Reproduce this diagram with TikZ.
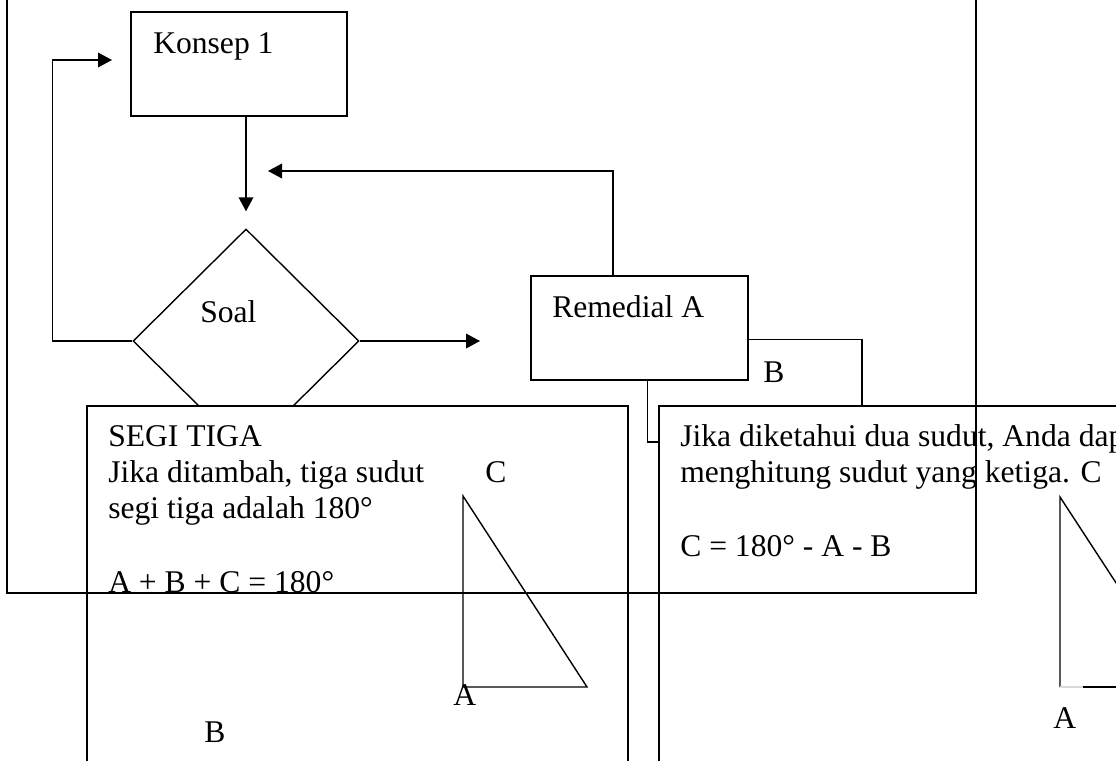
\documentclass[tikz,border=0pt]{standalone}
\usepackage{fontspec}
\setmainfont{Liberation Serif}
\usetikzlibrary{arrows.meta,shapes.geometric,calc}
\begin{document}
\begin{tikzpicture}[x=0.75pt,y=-0.75pt,
  flow/.style={line width=1.05pt},
  big/.style={line width=1.45pt},
  arr/.style={flow,-{Triangle[length=10.5pt,width=11pt]}},
  txt/.style={anchor=base west,inner sep=0pt,font=\fontsize{23.7pt}{27pt}\selectfont},
  ]
\useasboundingbox (0,0) rectangle (1116,760);
\clip (0,0) rectangle (1116,760);
\fill[white] (0,0) rectangle (1116,760);

% flowchart
\node[flow,draw,rectangle,minimum width=162pt,minimum height=78pt,inner sep=0pt] (konsep) at (239,64) {};
\node[txt] (tkonsep) at (153,53) {Konsep 1};
\node[flow,draw,diamond,minimum width=169.5pt,minimum height=168pt,inner sep=0pt] (soal) at (246,341) {};
\node[txt] (tsoal) at (200,322) {Soal};
\node[flow,draw,rectangle,minimum width=162.75pt,minimum height=78pt,inner sep=0pt] (remedial) at (639.5,328) {};
\node[txt] (tremedial) at (552,317) {Remedial A};
\node[txt] (tb) at (763,382) {B};

\coordinate (kin) at (112,60);
\coordinate (sin) at ($(soal.north)+(0,-17)$);
\coordinate (fbin) at (268,171);
\coordinate (rin) at (480,341);

\draw[arr] (soal.west) -- ++(-80,0) |- (kin);
\draw[arr] (konsep.south -| soal.north) -- (sin);
\draw[arr] ($(remedial.north)+(-26.5,0)$) |- (fbin);
\draw[arr] (soal.east) -- (rin);

% text boxes
\node[big,draw,fill=white,rectangle,minimum width=405.75pt,minimum height=295.5pt,inner sep=0pt] (segi) at (357.5,603) {};
\node[big,draw,fill=white,rectangle,minimum width=405.75pt,minimum height=295.5pt,inner sep=0pt] (rbox) at (929.5,603) {};

\draw[flow] ($(remedial.north east)+(0,64)$) -| ($(rbox.north west)+(204,0)$);
\draw[flow] ($(remedial.south west)+(117,0)$) |- ($(rbox.north west)+(0,37)$);

% left box content
\node[txt] (s1) at (108,446) {SEGI TIGA};
\node[txt] (s2) at (108,482) {Jika ditambah, tiga sudut};
\node[txt] (sc) at (485,482) {C};
\node[txt] (s3) at (108,518) {segi tiga adalah 180°};
\node[txt] (s4) at (108,592) {A + B + C = 180°};
\draw[flow] (463,496) -- (463,687) -- (587,687) -- cycle;
\node[txt] (sa) at (453,705) {A};
\node[txt] (sb) at (204,742) {B};

% right box content
\node[txt] (r1) at (680,446) {Jika diketahui dua sudut, Anda dapat};
\node[txt] (r2) at (680,482) {menghitung sudut yang ketiga. C};
\node[txt] (r3) at (680,556) {C = 180° - A - B};
\draw[flow] (1184,687) -- (1060,497) -- (1060,687);
\draw[flow,gray!30] (1060,687) -- (1083,687);
\draw[flow] (1083,687) -- (1184,687);
\node[txt] (ra) at (1053,728) {A};

% outer frame
\node[big,draw,rectangle,minimum width=726.75pt,minimum height=452.25pt,inner sep=0pt] (frame) at (491.5,291.5) {};
\end{tikzpicture}
\end{document}
